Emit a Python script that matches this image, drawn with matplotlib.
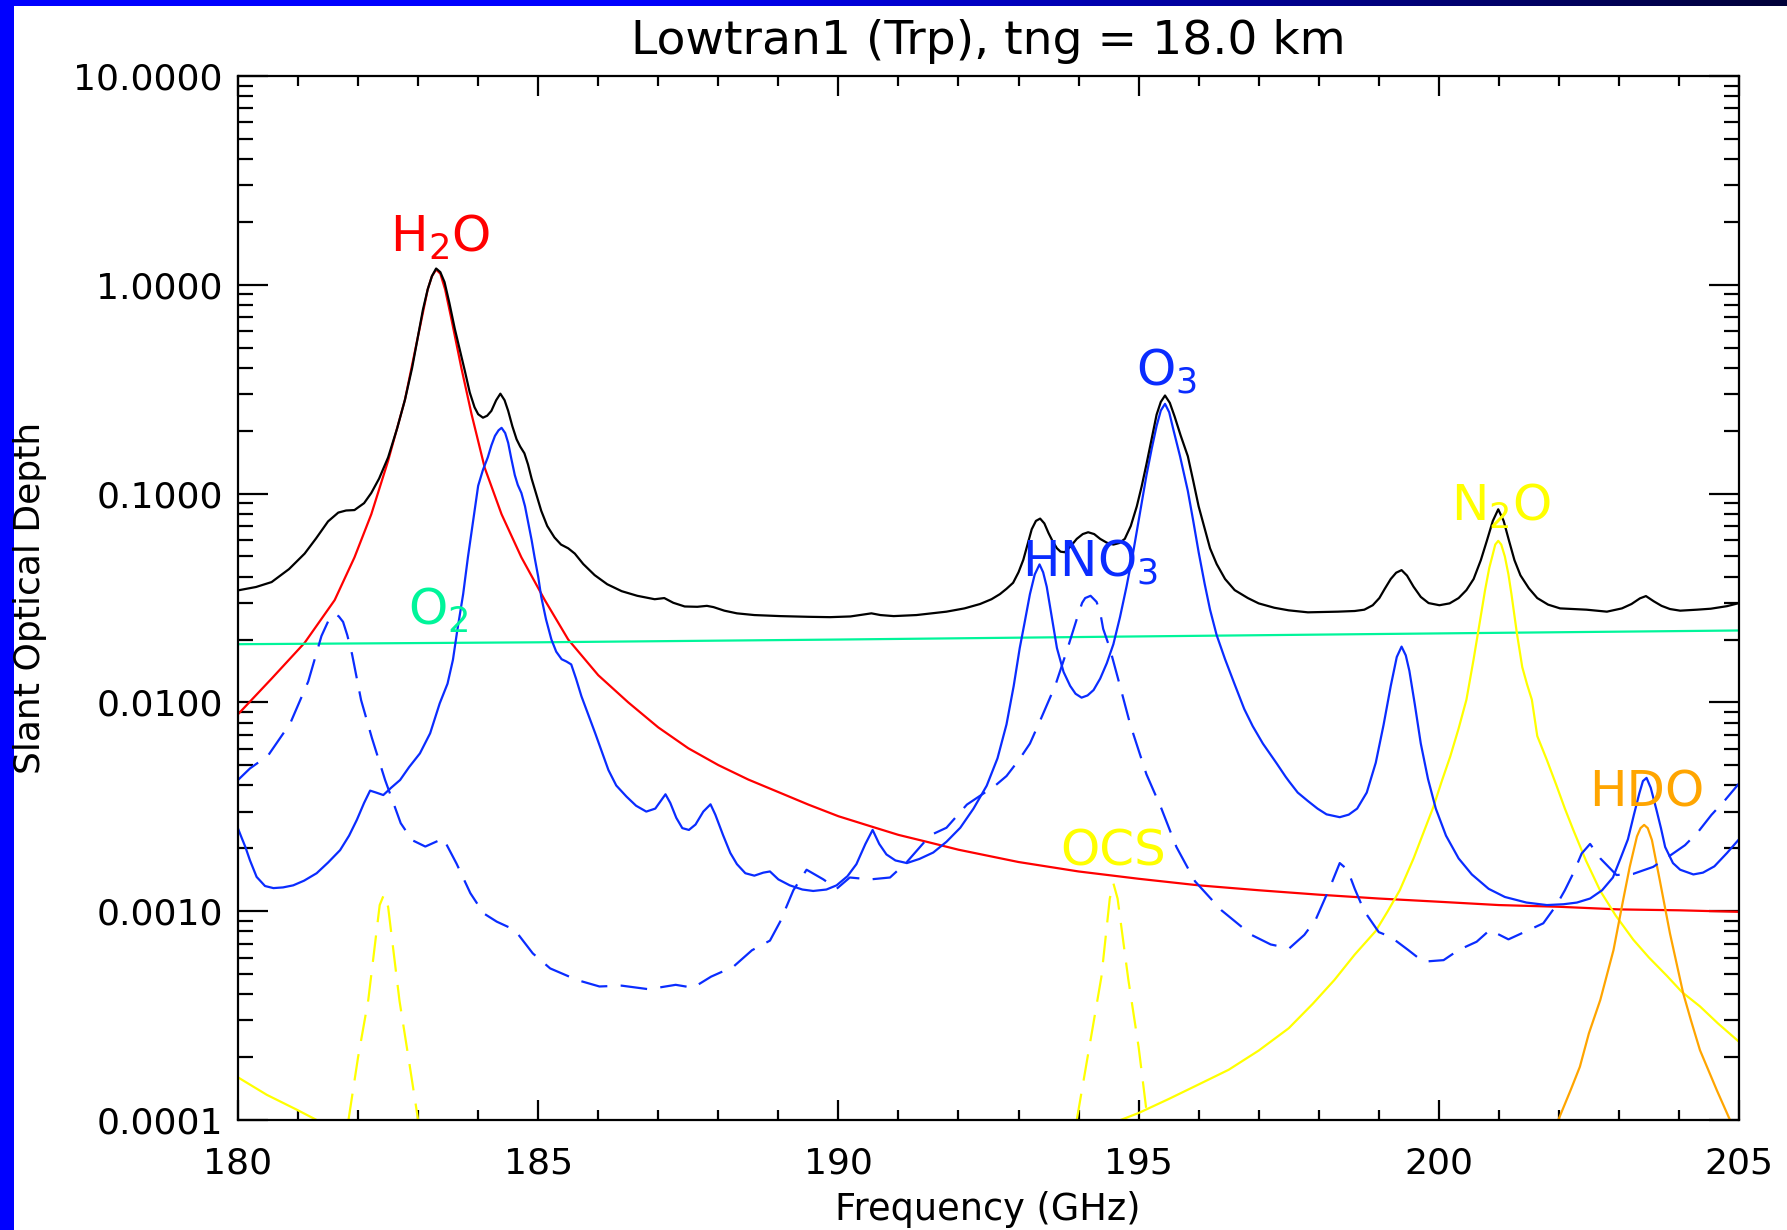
import numpy as np
import matplotlib
matplotlib.use("Agg")
import matplotlib.pyplot as plt
from matplotlib.ticker import FixedLocator, MultipleLocator, LogLocator, NullFormatter
from matplotlib.patches import Rectangle

# slant optical depth per species, frequency in GHz
total_f = [180.0, 180.3, 180.56, 180.85, 181.11, 181.3, 181.5, 181.67, 181.8, 181.94,
           182.1, 182.22, 182.35, 182.5, 182.65, 182.78, 182.9, 183.0, 183.08, 183.16,
           183.23, 183.3, 183.37, 183.44, 183.52, 183.61, 183.7, 183.78, 183.86, 183.94,
           184.0, 184.08, 184.15, 184.22, 184.3, 184.37, 184.44, 184.5, 184.57, 184.64,
           184.7, 184.77, 184.83, 184.89, 184.97, 185.05, 185.15, 185.27, 185.38, 185.5,
           185.61, 185.75, 185.94, 186.15, 186.39, 186.65, 186.94, 187.1, 187.25, 187.44,
           187.65, 187.81, 187.92, 188.1, 188.31, 188.6, 189.03, 189.5, 189.86, 190.2,
           190.55, 190.7, 190.92, 191.3, 191.8, 192.1, 192.36, 192.55, 192.69, 192.8,
           192.91, 193.0, 193.08, 193.15, 193.22, 193.29, 193.36, 193.43, 193.5, 193.57,
           193.64, 193.7, 193.77, 193.87, 193.97, 194.07, 194.16, 194.26, 194.36, 194.47,
           194.58, 194.68, 194.77, 194.87, 194.97, 195.05, 195.13, 195.22, 195.3, 195.37,
           195.44, 195.52, 195.6, 195.7, 195.82, 195.91, 196.0, 196.1, 196.19, 196.3,
           196.44, 196.6, 196.82, 197.0, 197.26, 197.5, 197.82, 198.32, 198.6, 198.76,
           198.9, 199.01, 199.1, 199.2, 199.29, 199.38, 199.47, 199.58, 199.7, 199.83,
           200.01, 200.18, 200.33, 200.46, 200.58, 200.7, 200.8, 200.9, 200.99, 201.08,
           201.17, 201.26, 201.36, 201.5, 201.64, 201.82, 202.02, 202.46, 202.8, 203.05,
           203.21, 203.35, 203.45, 203.58, 203.71, 203.85, 204.02, 204.3, 204.53, 204.8,
           205.0]
total_tau = [0.0344, 0.0357, 0.0377, 0.0435, 0.0516, 0.0610, 0.0736, 0.0811, 0.0830, 0.0834,
             0.0900, 0.1007, 0.118, 0.149, 0.205, 0.281, 0.400, 0.570, 0.760, 0.952,
             1.10, 1.197, 1.15, 1.03, 0.820, 0.617, 0.480, 0.385, 0.305, 0.259,
             0.240, 0.231, 0.236, 0.249, 0.280, 0.301, 0.280, 0.249, 0.210, 0.182,
             0.168, 0.156, 0.138, 0.118, 0.099, 0.0828, 0.0700, 0.0617, 0.0570, 0.0547,
             0.0516, 0.0460, 0.0407, 0.0368, 0.0341, 0.0324, 0.0312, 0.0316, 0.0300, 0.0288,
             0.0287, 0.0290, 0.0286, 0.0275, 0.0267, 0.0262, 0.0259, 0.0257, 0.0256, 0.0258,
             0.0267, 0.0262, 0.0259, 0.0262, 0.0272, 0.0282, 0.0296, 0.0312, 0.0330, 0.0350,
             0.0374, 0.0420, 0.0482, 0.0570, 0.0675, 0.0740, 0.0759, 0.0720, 0.0647, 0.0590,
             0.0547, 0.0527, 0.0524, 0.0560, 0.0607, 0.0640, 0.0653, 0.0640, 0.0607, 0.0582,
             0.0570, 0.0580, 0.0607, 0.0700, 0.0869, 0.108, 0.138, 0.185, 0.239, 0.275,
             0.295, 0.272, 0.234, 0.190, 0.151, 0.115, 0.0869, 0.0680, 0.0547, 0.0460,
             0.0390, 0.0345, 0.0316, 0.0298, 0.0284, 0.0276, 0.0270, 0.0272, 0.0274, 0.0278,
             0.0292, 0.0316, 0.0350, 0.0390, 0.0418, 0.0430, 0.0405, 0.0358, 0.0320, 0.0299,
             0.0292, 0.0298, 0.0316, 0.0345, 0.0390, 0.0480, 0.0594, 0.0740, 0.0841, 0.0740,
             0.0594, 0.0480, 0.0406, 0.0352, 0.0316, 0.0294, 0.0282, 0.0278, 0.0272, 0.0282,
             0.0296, 0.0315, 0.0323, 0.0305, 0.0290, 0.0280, 0.0275, 0.0278, 0.0281, 0.0289,
             0.0299]

h2o_f = [180.0, 180.56, 181.11, 181.61, 181.94, 182.22, 182.5, 182.78, 183.0, 183.16,
         183.23, 183.3, 183.37, 183.45, 183.55, 183.72, 183.89, 184.11, 184.39, 184.72,
         185.11, 185.5, 186.0, 186.5, 187.0, 187.5, 188.0, 188.5, 189.0, 189.5,
         190.0, 190.5, 191.0, 191.5, 192.0, 193.0, 194.0, 195.0, 196.0, 197.0,
         198.0, 199.0, 200.0, 201.0, 202.0, 203.0, 204.0, 205.0]
h2o_tau = [0.00877, 0.0130, 0.0193, 0.0309, 0.0495, 0.0796, 0.1435, 0.281, 0.570, 0.951,
           1.10, 1.183, 1.13, 0.95, 0.695, 0.400, 0.240, 0.1327, 0.0796, 0.0495,
           0.0309, 0.0200, 0.0135, 0.0100, 0.00759, 0.00603, 0.00501, 0.00427, 0.00372, 0.00324,
           0.00285, 0.00257, 0.00232, 0.00214, 0.00197, 0.00172, 0.00155, 0.00143, 0.00133, 0.00126,
           0.00120, 0.00115, 0.00111, 0.00107, 0.00105, 0.00102, 0.00101, 0.000993]

o2_f = [180.0, 185.0, 190.0, 195.0, 200.0, 205.0]
o2_tau = [0.0190, 0.0194, 0.0200, 0.0207, 0.0214, 0.0221]

o3_f = [180.0, 180.06, 180.12, 180.2, 180.31, 180.45, 180.59, 180.75, 180.92, 181.1,
        181.31, 181.5, 181.7, 181.85, 181.98, 182.1, 182.2, 182.3, 182.42, 182.55,
        182.7, 182.85, 183.03, 183.2, 183.36, 183.49, 183.58, 183.65, 183.75, 183.83,
        183.92, 184.0, 184.08, 184.16, 184.22, 184.28, 184.34, 184.39, 184.45, 184.5,
        184.55, 184.61, 184.66, 184.72, 184.78, 184.83, 184.89, 184.94, 185.0, 185.05,
        185.13, 185.22, 185.3, 185.39, 185.47, 185.55, 185.63, 185.72, 185.83, 185.95,
        186.06, 186.17, 186.3, 186.47, 186.63, 186.8, 186.95, 187.05, 187.12, 187.2,
        187.3, 187.4, 187.51, 187.62, 187.75, 187.87, 187.95, 188.08, 188.2, 188.31,
        188.45, 188.6, 188.75, 188.86, 189.0, 189.19, 189.4, 189.58, 189.8, 189.97,
        190.15, 190.3, 190.45, 190.57, 190.68, 190.8, 190.95, 191.14, 191.35, 191.58,
        191.8, 192.03, 192.25, 192.47, 192.65, 192.8, 192.92, 193.02, 193.1, 193.19,
        193.27, 193.35, 193.41, 193.47, 193.55, 193.64, 193.75, 193.86, 193.95, 194.05,
        194.15, 194.25, 194.36, 194.47, 194.58, 194.69, 194.8, 194.91, 195.02, 195.13,
        195.22, 195.3, 195.37, 195.44, 195.51, 195.58, 195.69, 195.82, 195.91, 196.0,
        196.1, 196.19, 196.3, 196.44, 196.6, 196.76, 196.9, 197.07, 197.3, 197.45,
        197.51, 197.65, 197.82, 197.98, 198.13, 198.35, 198.5, 198.64, 198.8, 198.95,
        199.08, 199.2, 199.3, 199.38, 199.45, 199.51, 199.6, 199.7, 199.82, 199.95,
        200.12, 200.33, 200.55, 200.83, 201.1, 201.46, 201.8, 202.08, 202.3, 202.52,
        202.72, 202.9, 203.03, 203.15, 203.25, 203.34, 203.4, 203.46, 203.53, 203.62,
        203.7, 203.77, 203.9, 204.02, 204.24, 204.4, 204.59, 204.8, 205.0]
o3_tau = [0.00249, 0.00225, 0.00204, 0.00175, 0.00146, 0.00132, 0.00129, 0.00130, 0.00133, 0.00140,
          0.00152, 0.00171, 0.00196, 0.00230, 0.00274, 0.00330, 0.00378, 0.00370, 0.00360, 0.00390,
          0.00425, 0.00490, 0.00570, 0.00711, 0.00990, 0.0123, 0.0160, 0.0219, 0.0330, 0.0497,
          0.0750, 0.109, 0.130, 0.149, 0.170, 0.189, 0.201, 0.2065, 0.195, 0.175,
          0.148, 0.1227, 0.110, 0.1007, 0.0870, 0.0735, 0.0600, 0.0495, 0.0400, 0.0321,
          0.0250, 0.0200, 0.0175, 0.0161, 0.0157, 0.0152, 0.0130, 0.0107, 0.00880, 0.00711,
          0.00580, 0.00474, 0.00400, 0.00354, 0.00320, 0.00300, 0.00310, 0.00340, 0.00363, 0.00330,
          0.00280, 0.00250, 0.00245, 0.00260, 0.00300, 0.00325, 0.00290, 0.00231, 0.00190, 0.00168,
          0.00152, 0.00148, 0.00153, 0.00155, 0.00142, 0.00133, 0.00127, 0.00125, 0.00127, 0.00133,
          0.00147, 0.00168, 0.00210, 0.00245, 0.00210, 0.00187, 0.00175, 0.00170, 0.00178, 0.00191,
          0.00215, 0.00251, 0.00310, 0.00399, 0.00540, 0.00785, 0.0120, 0.0182, 0.0240, 0.0330,
          0.0410, 0.0458, 0.0420, 0.0358, 0.0260, 0.0182, 0.0140, 0.0120, 0.0110, 0.01054,
          0.0108, 0.01146, 0.0130, 0.0154, 0.0190, 0.0256, 0.0360, 0.0524, 0.0800, 0.122,
          0.165, 0.211, 0.250, 0.269, 0.245, 0.202, 0.151, 0.103, 0.0740, 0.0524,
          0.0370, 0.0278, 0.0210, 0.0161, 0.0122, 0.00929, 0.00770, 0.00635, 0.00510, 0.00440,
          0.00417, 0.00370, 0.00337, 0.00310, 0.00291, 0.00282, 0.00290, 0.00310, 0.00370, 0.00514,
          0.00780, 0.0120, 0.0165, 0.0185, 0.0168, 0.01416, 0.00980, 0.00635, 0.00430, 0.00310,
          0.00230, 0.00179, 0.00150, 0.00128, 0.00117, 0.00110, 0.00107, 0.00108, 0.00110, 0.00115,
          0.00126, 0.00145, 0.00180, 0.00221, 0.00290, 0.00367, 0.00420, 0.00435, 0.00390, 0.00310,
          0.00250, 0.00203, 0.00170, 0.00158, 0.00150, 0.00153, 0.00164, 0.00190, 0.00221]

hno3_f = [180.0, 180.2, 180.5, 180.87, 181.17, 181.39, 181.5, 181.56, 181.62, 181.68,
          181.75, 181.82, 181.9, 182.05, 182.23, 182.45, 182.71, 182.9, 183.12, 183.42,
          183.64, 183.87, 184.09, 184.31, 184.61, 184.91, 185.2, 185.65, 186.02, 186.39,
          186.84, 187.29, 187.58, 187.88, 188.25, 188.56, 188.86, 189.03, 189.25, 189.47,
          189.75, 189.97, 190.19, 190.53, 190.86, 191.14, 191.53, 191.8, 192.14, 192.61,
          192.8, 193.02, 193.19, 193.36, 193.61, 193.8, 194.0, 194.06, 194.11, 194.2,
          194.3, 194.36, 194.41, 194.52, 194.69, 194.86, 195.13, 195.38, 195.63, 195.94,
          196.38, 196.88, 197.2, 197.51, 197.76, 197.95, 198.2, 198.35, 198.48, 198.6,
          198.76, 199.0, 199.2, 199.49, 199.74, 200.08, 200.33, 200.63, 200.85, 201.16,
          201.44, 201.74, 201.96, 202.1, 202.24, 202.38, 202.52, 202.69, 202.96, 203.24,
          203.57, 203.82, 204.1, 204.32, 204.54, 204.77, 205.0]
hno3_tau = [0.00425, 0.00483, 0.00556, 0.00794, 0.0126, 0.0208, 0.0244, 0.0258, 0.0265, 0.0258,
            0.0243, 0.0210, 0.0170, 0.01026, 0.00676, 0.00425, 0.00264, 0.00219, 0.00204, 0.00223,
            0.00169, 0.00122, 0.000977, 0.000891, 0.000813, 0.000628, 0.000532, 0.000468, 0.000436, 0.000440,
            0.000423, 0.000444, 0.000430, 0.000486, 0.000542, 0.000650, 0.000723, 0.000891, 0.00126, 0.00158,
            0.00142, 0.00128, 0.00145, 0.00142, 0.00145, 0.00172, 0.00231, 0.00251, 0.00324, 0.00399,
            0.00444, 0.00537, 0.00635, 0.00818, 0.0120, 0.0175, 0.0267, 0.0300, 0.0316, 0.0324,
            0.0303, 0.0270, 0.0225, 0.0182, 0.0120, 0.00785, 0.00453, 0.00310, 0.00203, 0.00139,
            0.00101, 0.000770, 0.000693, 0.000664, 0.000770, 0.000912, 0.00133, 0.00170, 0.00158, 0.00128,
            0.00100, 0.000794, 0.000753, 0.000652, 0.000573, 0.000583, 0.000652, 0.000714, 0.000813, 0.000733,
            0.000798, 0.000875, 0.00107, 0.00126, 0.00152, 0.00189, 0.00210, 0.00179, 0.00149, 0.00151,
            0.00163, 0.00182, 0.00207, 0.00240, 0.00289, 0.00341, 0.00409]

n2o_f = [180.0, 180.48, 180.98, 181.31, np.nan,
         194.7, 195.0, 195.5, 196.0, 196.5, 197.0, 197.5, 197.9, 198.26, 198.6,
         198.95, 199.15, 199.35, 199.58, 199.75, 199.91, 200.05, 200.19, 200.33, 200.46,
         200.58, 200.68, 200.77, 200.84, 200.89, 200.94, 200.99, 201.04, 201.1, 201.16,
         201.21, 201.3, 201.39, 201.47, 201.55, 201.64, 201.8, 201.96, 202.1, 202.24,
         202.45, 202.69, 202.95, 203.24, 203.5, 203.8, 204.05, 204.35, 204.65, 205.0]
n2o_tau = [0.000160, 0.000132, 0.000112, 0.000100, np.nan,
           0.000100, 0.000108, 0.000126, 0.000148, 0.000174, 0.000215, 0.000275, 0.000360, 0.000468, 0.000620,
           0.000804, 0.00100, 0.00126, 0.00179, 0.00240, 0.00316, 0.00420, 0.00550, 0.00750, 0.0103,
           0.0161, 0.0240, 0.0344, 0.0440, 0.0500, 0.0570, 0.0594, 0.0570, 0.0500, 0.0410,
           0.0330, 0.0215, 0.01476, 0.0122, 0.0103, 0.00690, 0.00530, 0.00400, 0.00310, 0.00245,
           0.00175, 0.00125, 0.000950, 0.000730, 0.000600, 0.000490, 0.000410, 0.000350, 0.000290, 0.000237]

ocs_f = [181.84, 182.0, 182.17, 182.36, 182.43, 182.5, 182.69, 182.85, 183.0, np.nan,
         193.97, 194.18, 194.38, 194.52, 194.58, 194.65, 194.83, 195.0, 195.15]
ocs_tau = [0.000100, 0.000200, 0.000376, 0.00107, 0.00120, 0.00105, 0.000372, 0.000190, 0.000100, np.nan,
           0.000100, 0.000224, 0.000484, 0.00115, 0.00136, 0.00115, 0.000468, 0.000224, 0.000100]

hdo_f = [201.99, 202.2, 202.35, 202.5, 202.69, 202.91, 203.07, 203.18, 203.3, 203.36,
         203.42, 203.48, 203.55, 203.68, 203.85, 204.07, 204.2, 204.35, 204.63, 204.85]
hdo_tau = [0.000100, 0.000140, 0.000180, 0.000260, 0.000376, 0.000652, 0.00113, 0.00163, 0.00228, 0.00250,
           0.00259, 0.00250, 0.00219, 0.00141, 0.000783, 0.000405, 0.000300, 0.000216, 0.000139, 0.000100]

c_blue = '#0a2cff'
c_green = '#00f59a'
c_yellow = '#ffff00'
c_orange = '#ffa500'

fig = plt.figure(figsize=(17.87, 12.30), dpi=100)
fig.patch.set_facecolor('white')

# slide frame: solid bar on the left, fading bar along the top
fig.patches.append(Rectangle((0, 0), 14 / 1787, 1, transform=fig.transFigure,
                             facecolor='#0000ff', edgecolor='none', zorder=0))
bar = fig.add_axes([0, 1 - 6 / 1230, 1, 6 / 1230])
grad = np.ones((1, 512, 3))
ramp = np.clip((np.linspace(0, 1, 512) - 0.35) / 0.65, 0, 1)
grad[0, :, 0] = 0
grad[0, :, 1] = 0
grad[0, :, 2] = 1.0 - 0.78 * ramp
bar.imshow(grad, aspect='auto', extent=[0, 1, 0, 1])
bar.axis('off')

ax = fig.add_axes([238 / 1787, 1 - 1120 / 1230, 1501 / 1787, 1044 / 1230])
ax.set_yscale('log')
ax.set_xlim(180, 205)
ax.set_ylim(1e-4, 10)

lw = 1.6
dash = (12, 6)
ax.plot(h2o_f, h2o_tau, color='#ff0000', lw=lw)
ax.plot(o2_f, o2_tau, color=c_green, lw=lw)
ax.plot(n2o_f, n2o_tau, color=c_yellow, lw=lw)
ax.plot(ocs_f, ocs_tau, color=c_yellow, lw=lw, dashes=dash)
ax.plot(hdo_f, hdo_tau, color=c_orange, lw=lw)
ax.plot(hno3_f, hno3_tau, color=c_blue, lw=lw, dashes=dash)
ax.plot(o3_f, o3_tau, color=c_blue, lw=lw)
ax.plot(total_f, total_tau, color='black', lw=lw)

lab = dict(fontsize=36, ha='left', va='baseline')
ax.text(182.53, 1.435, 'H$_2$O', color='#ff0000', **lab)
ax.text(194.96, 0.331, 'O$_3$', color=c_blue, **lab)
ax.text(193.05, 0.040, 'HNO$_3$', color=c_blue, **lab)
ax.text(200.2, 0.0741, 'N$_2$O', color=c_yellow, **lab)
ax.text(202.51, 0.00319, 'HDO', color=c_orange, **lab)
ax.text(193.69, 0.00166, 'OCS', color=c_yellow, **lab)
ax.text(182.83, 0.0235, 'O$_2$', color=c_green, **lab)

ax.xaxis.set_major_locator(FixedLocator([180, 185, 190, 195, 200, 205]))
ax.xaxis.set_minor_locator(MultipleLocator(1))
ax.yaxis.set_major_locator(FixedLocator([1e-4, 1e-3, 1e-2, 1e-1, 1, 10]))
ax.yaxis.set_minor_locator(LogLocator(base=10, subs=np.arange(2, 10)))
ax.yaxis.set_minor_formatter(NullFormatter())
ax.set_xticklabels(['180', '185', '190', '195', '200', '205'])
ax.set_yticklabels(['0.0001', '0.0010', '0.0100', '0.1000', '1.0000', '10.0000'])

for s in ax.spines.values():
    s.set_linewidth(1.6)
ax.tick_params(which='both', direction='in', top=True, right=True, width=1.6,
               labelsize=26)
ax.tick_params(axis='x', which='major', length=14.5, pad=19)
ax.tick_params(axis='x', which='minor', length=7.2)
ax.tick_params(axis='y', which='major', length=21.6, pad=11)
ax.tick_params(axis='y', which='minor', length=10.8)

fig.text(988 / 1787, 1 - 42 / 1230, 'Lowtran1 (Trp), tng = 18.0 km',
         fontsize=34, ha='center', va='center')
fig.text(988 / 1787, 1 - 1209 / 1230, 'Frequency (GHz)',
         fontsize=26.5, ha='center', va='center')
fig.text(30 / 1787, 1 - 598 / 1230, 'Slant Optical Depth',
         fontsize=26, ha='center', va='center', rotation=90)

fig.savefig('out.png', dpi=100)
